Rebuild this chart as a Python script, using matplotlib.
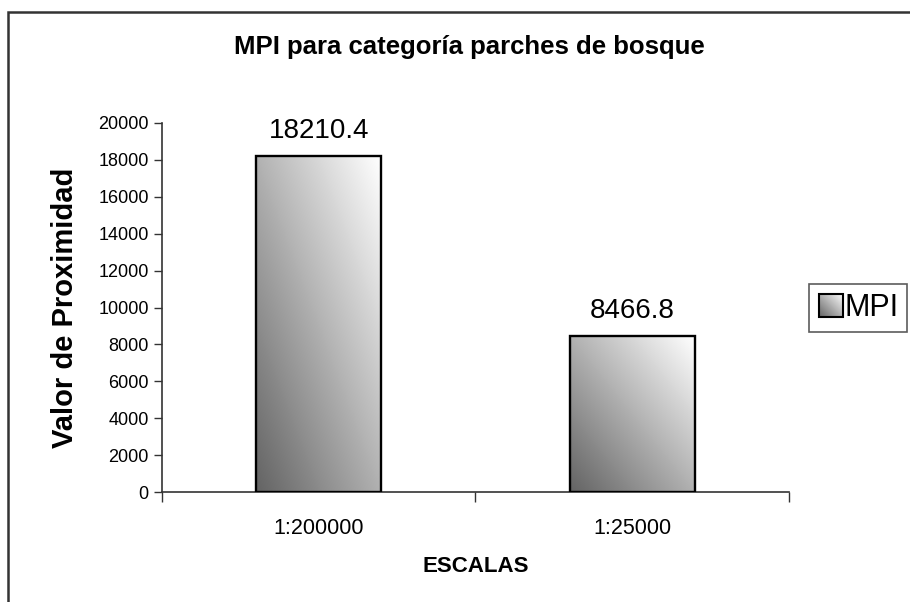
import numpy as np
import matplotlib
matplotlib.use("Agg")
import matplotlib.pyplot as plt
from matplotlib.colors import LinearSegmentedColormap
from matplotlib.patches import Rectangle
from matplotlib.legend_handler import HandlerBase
from matplotlib.image import BboxImage
from matplotlib.transforms import Bbox, TransformedBbox

plt.rcParams["font.family"] = ["Liberation Sans", "DejaVu Sans"]

# ── data ───────────────────────────────────────────────────────────────────────
escalas = ["1:200000", "1:25000"]
mpi     = [18210.4, 8466.8]
y_ticks = [0, 2000, 4000, 6000, 8000, 10000, 12000, 14000, 16000, 18000, 20000]

BAR_W = 0.4
shade = LinearSegmentedColormap.from_list("shade", ["#646464", "#ffffff"])

# diagonal ramp: dark lower-left -> white upper-right
_u, _v = np.meshgrid(np.linspace(0, 1, 64), np.linspace(0, 1, 64))
ramp = (_u + _v) / 2.0


class GradientHandler(HandlerBase):
    """Legend key drawn with the same diagonal shading as the bars."""
    def create_artists(self, legend, orig_handle, xdescent, ydescent,
                       width, height, fontsize, trans):
        side = min(width, height)
        x0 = -xdescent + (width - side)
        y0 = -ydescent + (height - side) / 2
        bb = TransformedBbox(Bbox.from_bounds(x0, y0, side, side), trans)
        img = BboxImage(bb, cmap=shade, origin="lower", interpolation="bilinear")
        img.set_data(ramp)
        edge = Rectangle((x0, y0), side, side, fill=False,
                         edgecolor="black", linewidth=1.5, transform=trans)
        return [img, edge]


fig = plt.figure(figsize=(9.10, 6.02), dpi=100)
ax = fig.add_axes([0.178, 0.1827, 0.689, 0.613])

x = np.arange(len(escalas))
bars = ax.bar(x, mpi, width=BAR_W, facecolor="none", edgecolor="black",
              linewidth=1.7, zorder=3, label="MPI")

for rect, val in zip(bars, mpi):
    x0, w = rect.get_x(), rect.get_width()
    ax.imshow(ramp, cmap=shade, origin="lower", aspect="auto",
              extent=(x0, x0 + w, 0, val), interpolation="bilinear", zorder=2)
    ax.text(x0 + w / 2, val + 650, f"{val:.1f}", ha="center", va="bottom",
            fontsize=20)

ax.set_xlim(-0.5, len(escalas) - 0.5)
ax.set_ylim(0, 20000)
ax.set_yticks(y_ticks)
ax.tick_params(axis="y", labelsize=13, length=6, width=1, color="#333333")

# category boundaries get the tick marks, labels sit between them
ax.set_xticks(np.arange(len(escalas) + 1) - 0.5)
ax.set_xticklabels([])
ax.set_xticks(x, minor=True)
ax.set_xticklabels(escalas, minor=True, fontsize=15.5)
ax.tick_params(axis="x", which="major", length=7, width=1, color="#333333")
ax.tick_params(axis="x", which="minor", length=0, pad=19)

for side in ("top", "right"):
    ax.spines[side].set_visible(False)
for side in ("left", "bottom"):
    ax.spines[side].set_color("#333333")
    ax.spines[side].set_linewidth(1.2)

ax.set_xlabel("ESCALAS", fontsize=16, fontweight="bold", labelpad=12)
ax.set_ylabel("Valor de Proximidad", fontsize=21, fontweight="bold", labelpad=14)
fig.text(0.516, 0.922, "MPI para categoría parches de bosque",
         ha="center", va="center", fontsize=18.5, fontweight="bold")

leg = fig.legend(handles=[bars], labels=["MPI"], loc="upper left",
                 bbox_to_anchor=(0.889, 0.528), fontsize=22,
                 handler_map={type(bars): GradientHandler()},
                 frameon=True, fancybox=False, edgecolor="#333333",
                 handlelength=0.8, handleheight=0.8, handletextpad=0.05,
                 borderpad=0.3, borderaxespad=0)
leg.get_frame().set_linewidth(1.2)

# outer chart frame, running off the right and bottom edges
fig.patches.append(Rectangle((8 / 910, -0.2), 2.0, 1.2 - 12 / 602,
                             transform=fig.transFigure, fill=False,
                             edgecolor="#333333", linewidth=1.8))

fig.savefig("out.png", dpi=100)
